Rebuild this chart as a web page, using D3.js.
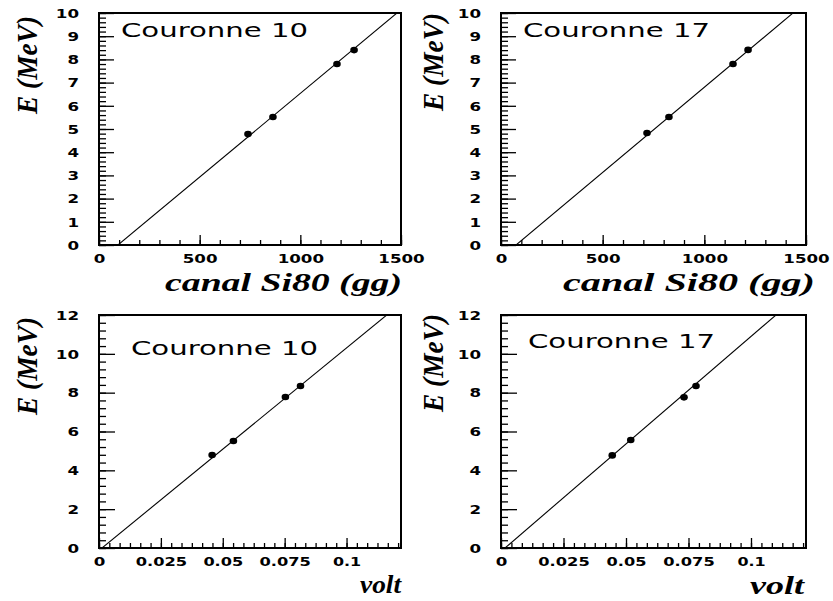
<!DOCTYPE html>
<html>
<head>
<meta charset="utf-8">
<script src="https://cdn.jsdelivr.net/npm/d3@7"></script>
<style>
  body { margin: 0; background: #fff; }
  svg { display: block; }
  .serif { font-family: "Liberation Serif", "Times New Roman", "DejaVu Serif", serif; font-weight: bold; font-style: italic; }
  .tick text { font-family: "DejaVu Sans", sans-serif; font-weight: bold; font-size: 12px; }
</style>
</head>
<body>
<div id="chart"></div>
<script>
// values
const panelTitles = ["Couronne 10", "Couronne 17", "Couronne 10", "Couronne 17"];

const canalC10 = [740, 864, 1182, 1267];
const energyCanalC10 = [4.78, 5.52, 7.80, 8.40];
const canalC17 = [718, 826, 1141, 1215];
const energyCanalC17 = [4.83, 5.52, 7.80, 8.41];
const voltC10 = [0.0457, 0.0543, 0.0753, 0.0814];
const energyVoltC10 = [4.79, 5.51, 7.78, 8.34];
const voltC17 = [0.0445, 0.0519, 0.0732, 0.0780];
const energyVoltC17 = [4.77, 5.56, 7.76, 8.34];

// straight calibration line, E = slope * x + intercept
const fitSlope = [0.007215, 0.007342, 104.3, 110.7];
const fitIntercept = [-0.678, -0.543, -0.125, -0.177];

const canalTicks = [0, 500, 1000, 1500];
const canalTickLabels = ["0", "500", "1000", "1500"];
const voltTicks = [0, 0.025, 0.05, 0.075, 0.1];
const voltTickLabels = ["0", "0.025", "0.05", "0.075", "0.1"];
const energyTicksTop = [0, 1, 2, 3, 4, 5, 6, 7, 8, 9, 10];
const energyTicksBottom = [0, 2, 4, 6, 8, 10, 12];

const xTitles = ["canal Si80 (gg)", "canal Si80 (gg)", "volt", "volt"];
const yTitle = "E (MeV)";

// the scan uses a very wide lettering for the numbers
function labelWidth(s) {
    let n = 0;
    for (const c of s) n += (c === ".") ? 5 : 11.6;
    return n;
}

function main() {
    const svg = d3.select("#chart")
        .append("svg")
        .attr("width", 833)
        .attr("height", 601);

    svg.append("rect").attr("width", 833).attr("height", 601).attr("fill", "#fff");

    // frame positions and axis setup for the 2x2 grid
    const panels = [
        {xs: canalC10, ys: energyCanalC10, left: 99, right: 401, top: 13, bottom: 245,
         xMax: 1500, yMax: 10, xt: canalTicks, xl: canalTickLabels, yt: energyTicksTop,
         xMinor: d3.range(0, 1501, 100), yMinor: d3.range(0, 10.001, 0.2),
         yMaj: 15, yMin: 7,
         titleX: 121, titleY: 37, yTitleX: 37, yTitleY: 65,
         xTitleX: 165, xTitleY: 291, xTitleLen: 237},
        {xs: canalC17, ys: energyCanalC17, left: 501, right: 806, top: 13, bottom: 245,
         xMax: 1500, yMax: 10, xt: canalTicks, xl: canalTickLabels, yt: energyTicksTop,
         xMinor: d3.range(0, 1501, 100), yMinor: d3.range(0, 10.001, 0.2),
         yMaj: 15, yMin: 7,
         titleX: 523, titleY: 37, yTitleX: 443, yTitleY: 62,
         xTitleX: 563, xTitleY: 291, xTitleLen: 252},
        {xs: voltC10, ys: energyVoltC10, left: 99, right: 401, top: 315, bottom: 548,
         xMax: 0.122, yMax: 12, xt: voltTicks, xl: voltTickLabels, yt: energyTicksBottom,
         xMinor: d3.range(0, 0.122, 0.025 / 6), yMinor: d3.range(0, 12.001, 0.4),
         yMaj: 16, yMin: 7,
         titleX: 131, titleY: 355, yTitleX: 37, yTitleY: 366,
         xTitleX: 360, xTitleY: 593, xTitleLen: 41},
        {xs: voltC17, ys: energyVoltC17, left: 501, right: 806, top: 315, bottom: 548,
         xMax: 0.122, yMax: 12, xt: voltTicks, xl: voltTickLabels, yt: energyTicksBottom,
         xMinor: d3.range(0, 0.122, 0.025 / 6), yMinor: d3.range(0, 12.001, 0.4),
         yMaj: 16, yMin: 7,
         titleX: 528, titleY: 348, yTitleX: 443, yTitleY: 363,
         xTitleX: 750, xTitleY: 594, xTitleLen: 54}
    ];

    panels.forEach(function (p, i) {
        const w = p.right - p.left, h = p.bottom - p.top;
        const g = svg.append("g").attr("transform", `translate(${p.left},${p.top})`);

        const x = d3.scaleLinear().domain([0, p.xMax]).range([0, w]);
        const y = d3.scaleLinear().domain([0, p.yMax]).range([h, 0]);

        g.append("clipPath").attr("id", "clip" + i)
            .append("rect").attr("width", w).attr("height", h);

        // ticks pointing inwards, major + minor
        const xMajor = d3.axisBottom(x).tickValues(p.xt)
            .tickFormat((d, k) => p.xl[k]).tickSize(-10).tickPadding(0);
        const xMinorAxis = d3.axisBottom(x).tickValues(p.xMinor).tickFormat("").tickSize(-5);
        const yMajor = d3.axisLeft(y).tickValues(p.yt).tickFormat(d3.format("d"))
            .tickSize(-p.yMaj).tickPadding(0);
        const yMinorAxis = d3.axisLeft(y).tickValues(p.yMinor).tickFormat("").tickSize(-p.yMin);

        const gxMin = g.append("g").attr("transform", `translate(0,${h})`).call(xMinorAxis);
        const gyMin = g.append("g").call(yMinorAxis);
        const gx = g.append("g").attr("transform", `translate(0,${h})`).call(xMajor);
        const gy = g.append("g").call(yMajor);

        [gxMin, gyMin, gx, gy].forEach(function (a) {
            a.select(".domain").remove();
            a.selectAll("line").attr("stroke", "#000").attr("stroke-width", 1.3);
        });

        gx.selectAll("text")
            .attr("y", 18).attr("dy", 0)
            .attr("fill", "#000")
            .attr("textLength", function () { return labelWidth(this.textContent); })
            .attr("lengthAdjust", "spacingAndGlyphs");

        gy.selectAll("text")
            .attr("x", -20).attr("dy", "0.36em")
            .attr("text-anchor", "end")
            .attr("fill", "#000")
            .attr("textLength", function () { return labelWidth(this.textContent); })
            .attr("lengthAdjust", "spacingAndGlyphs");

        // calibration line
        const line = d3.line()
            .x(d => x(d))
            .y(d => y(fitSlope[i] * d + fitIntercept[i]));
        g.append("path")
            .datum([0, p.xMax])
            .attr("d", line)
            .attr("clip-path", `url(#clip${i})`)
            .attr("fill", "none")
            .attr("stroke", "#000")
            .attr("stroke-width", 1.1);

        // measured points
        g.append("g")
            .selectAll("ellipse")
            .data(p.xs)
            .enter()
            .append("ellipse")
            .attr("cx", d => x(d))
            .attr("cy", (d, k) => y(p.ys[k]))
            .attr("rx", 3.8)
            .attr("ry", 3.3)
            .attr("fill", "#000");

        // frame
        g.append("rect")
            .attr("width", w).attr("height", h)
            .attr("fill", "none")
            .attr("stroke", "#000")
            .attr("stroke-width", 2);

        svg.append("text")
            .attr("x", p.titleX).attr("y", p.titleY)
            .attr("textLength", 187)
            .attr("lengthAdjust", "spacingAndGlyphs")
            .attr("font-family", "DejaVu Sans, sans-serif")
            .attr("font-size", 19)
            .text(panelTitles[i]);

        svg.append("text")
            .attr("class", "serif")
            .attr("transform", `translate(${p.yTitleX},${p.yTitleY}) rotate(-90)`)
            .attr("text-anchor", "middle")
            .attr("textLength", 98)
            .attr("lengthAdjust", "spacingAndGlyphs")
            .attr("font-size", 29)
            .text(yTitle);

        svg.append("text")
            .attr("class", "serif")
            .attr("x", p.xTitleX).attr("y", p.xTitleY)
            .attr("textLength", p.xTitleLen)
            .attr("lengthAdjust", "spacingAndGlyphs")
            .attr("font-size", 26)
            .text(xTitles[i]);
    });
}

main()
</script>
</body>
</html>
